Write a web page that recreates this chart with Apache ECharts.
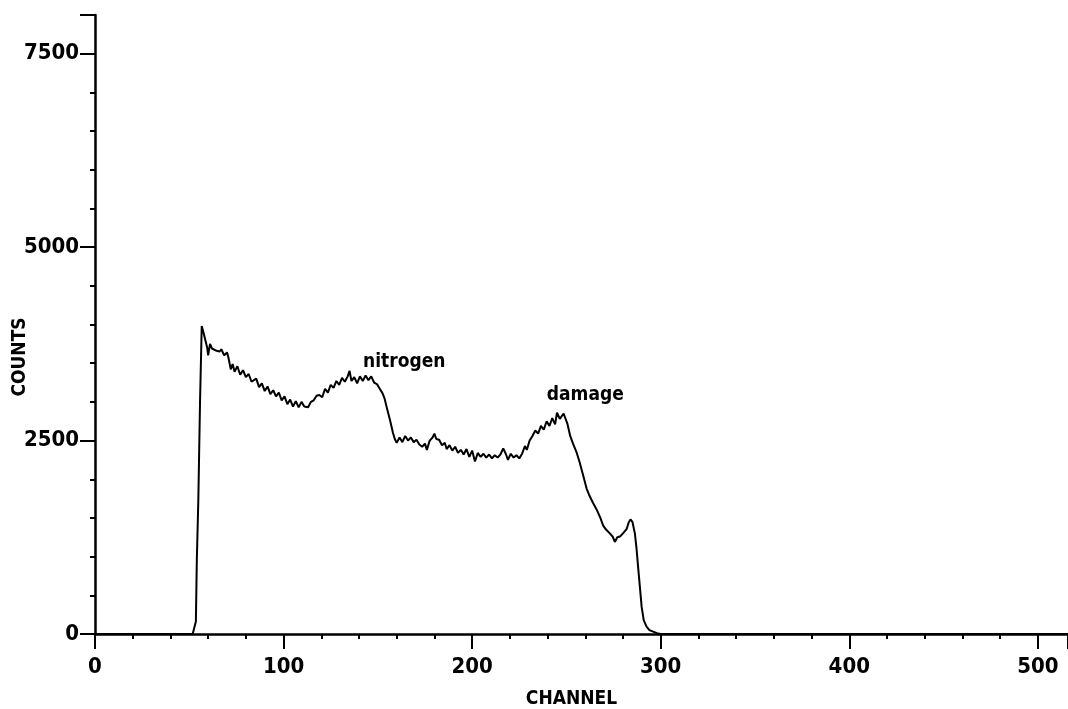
<!DOCTYPE html>
<html>
<head>
<meta charset="utf-8">
<script src="https://cdn.jsdelivr.net/npm/echarts@6/dist/echarts.min.js"></script>
<style>
  html, body { margin: 0; padding: 0; background: #fff; }
  #main { width: 1068px; height: 709px; }
</style>
</head>
<body>
<div id="main"></div>
<script>
// spectrum data
var channels = [0, 50, 51.8, 53.5, 54, 54.8, 55.7, 56.6, 57.5, 58.5, 59.5, 60, 61, 62, 63, 64.5, 66, 67, 68.5, 70, 70.7,
  72, 73, 74, 75.5, 77, 78.5, 80, 81.5, 83, 84, 85.5, 87, 88.5, 90, 91.5, 93, 94.5, 96, 97.5, 99, 100.5,
  102, 103.5, 105, 106.5, 108, 109.5, 111, 113, 114.5, 116, 117.5, 119, 120.5, 122, 123.5, 125, 126.5, 128, 129.5,
  131, 132.5, 134, 135, 136, 137.5, 139, 140.5, 142, 143.5, 145, 146.5, 148, 149.5, 151, 152.5, 153.5, 155, 156.5,
  158, 159, 160, 161.5, 163, 164.5, 166, 167.5, 169, 170.5, 172, 173.5, 175, 176, 177.5, 179, 180, 181, 182.5,
  184, 185.5, 186.5, 188, 189.5, 191, 192.5, 194, 195.5, 197, 198.5, 200, 201.5, 203, 204.5, 206, 207.5, 209,
  210.5, 212, 213.5, 215, 216.5, 218, 219, 220.5, 222, 223.5, 225, 226.5, 228, 229, 230.5, 232, 233.5, 235,
  236.5, 238, 239.5, 241, 242.5, 244, 245, 246.5, 247.5, 248.5, 249.5, 250.5, 252, 253.5, 255.5, 257, 259,
  260.7, 262, 264, 266, 268, 269.5, 271, 273, 274.5, 275.7, 277, 278.4, 280, 282, 283, 284, 285, 286.3, 287.2,
  288, 289, 289.9, 291, 292.5, 294, 296, 298, 300, 516];
var counts = [0, 0, 0, 160, 960, 1735, 3000, 3980, 3900, 3800, 3700, 3600, 3750, 3690, 3710, 3660, 3650, 3680, 3600, 3640, 3580,
  3420, 3490, 3390, 3460, 3350, 3410, 3320, 3360, 3260, 3240, 3300, 3190, 3240, 3140, 3200, 3100, 3150, 3070, 3120, 3020, 3070,
  2970, 3030, 2940, 3010, 2930, 3000, 2940, 2930, 3000, 3020, 3080, 3090, 3060, 3170, 3120, 3220, 3180, 3270, 3220,
  3310, 3260, 3330, 3400, 3270, 3320, 3240, 3330, 3270, 3340, 3280, 3330, 3250, 3230, 3170, 3110, 3050, 2900, 2760,
  2600, 2520, 2470, 2540, 2480, 2560, 2500, 2540, 2480, 2510, 2450, 2420, 2460, 2380, 2500, 2540, 2590, 2520, 2510,
  2440, 2470, 2390, 2440, 2370, 2420, 2340, 2380, 2320, 2390, 2290, 2370, 2230, 2340, 2290, 2330, 2280, 2320,
  2270, 2310, 2280, 2320, 2400, 2320, 2250, 2330, 2280, 2310, 2270, 2330, 2430, 2380, 2500, 2560, 2630, 2590,
  2690, 2640, 2750, 2690, 2790, 2710, 2860, 2780, 2770, 2850, 2830, 2720, 2560, 2460, 2340, 2220, 2040,
  1880, 1800, 1700, 1610, 1500, 1400, 1350, 1300, 1260, 1190, 1250, 1260, 1300, 1360, 1440, 1480, 1450, 1300, 1100,
  870, 600, 350, 180, 95, 50, 30, 10, 0, 0];

var labelNames = ['nitrogen', 'damage'];
var labelAt = [[164, 3510], [260, 3083]];

var points = channels.map(function (c, i) { return [c, counts[i]]; });
var fontFam = 'DejaVu Sans Condensed, DejaVu Sans, sans-serif';

var myChart = echarts.init(document.getElementById('main'));

var option = {
  animation: false,
  grid: { left: 95, right: 0, top: 15, bottom: 75, outerBoundsMode: 'none', containLabel: false },
  // y axis title, placed a little below the axis middle as in the original
  graphic: [
    {
      type: 'text',
      x: 20,
      y: 357,
      rotation: Math.PI / 2,
      style: {
        text: 'COUNTS',
        fill: '#000',
        font: 'bold 19px ' + fontFam,
        align: 'center',
        verticalAlign: 'middle'
      }
    }
  ],
  xAxis: {
    type: 'value',
    min: 0,
    max: 516,
    interval: 100,
    name: 'CHANNEL',
    nameLocation: 'middle',
    nameGap: 56,
    nameTextStyle: { color: '#000', fontFamily: fontFam, fontWeight: 'bold', fontSize: 19, padding: [0, 20, 0, 0] },
    splitLine: { show: false },
    axisLine: { onZero: false, lineStyle: { color: '#000', width: 2.5 } },
    axisTick: { length: 15, lineStyle: { color: '#000', width: 2 } },
    minorTick: { show: true, splitNumber: 5, length: 5, lineStyle: { color: '#000', width: 2 } },
    axisLabel: { color: '#000', fontFamily: fontFam, fontWeight: 'bold', fontSize: 22, margin: 22, showMaxLabel: false,
      formatter: function (v) { return String(v); } }
  },
  yAxis: {
    type: 'value',
    min: 0,
    max: 8000,
    interval: 2500,
    splitLine: { show: false },
    axisLine: { lineStyle: { color: '#000', width: 2.5 } },
    axisTick: { length: 15, lineStyle: { color: '#000', width: 2 } },
    minorTick: { show: true, splitNumber: 5, length: 5, lineStyle: { color: '#000', width: 2 } },
    axisLabel: { color: '#000', fontFamily: fontFam, fontWeight: 'bold', fontSize: 22, margin: 16, showMaxLabel: false,
      formatter: function (v) { return String(v); } }
  },
  series: [
    {
      type: 'line',
      data: points,
      showSymbol: false,
      lineStyle: { color: '#000', width: 2 },
      markPoint: {
        symbolSize: 0,
        label: { show: true, position: 'inside', color: '#000', fontFamily: fontFam, fontWeight: 'bold', fontSize: 19 },
        data: labelNames.map(function (n, i) {
          return { coord: labelAt[i], value: n, label: { formatter: n } };
        })
      }
    }
  ]
};

myChart.setOption(option);
</script>
</body>
</html>
